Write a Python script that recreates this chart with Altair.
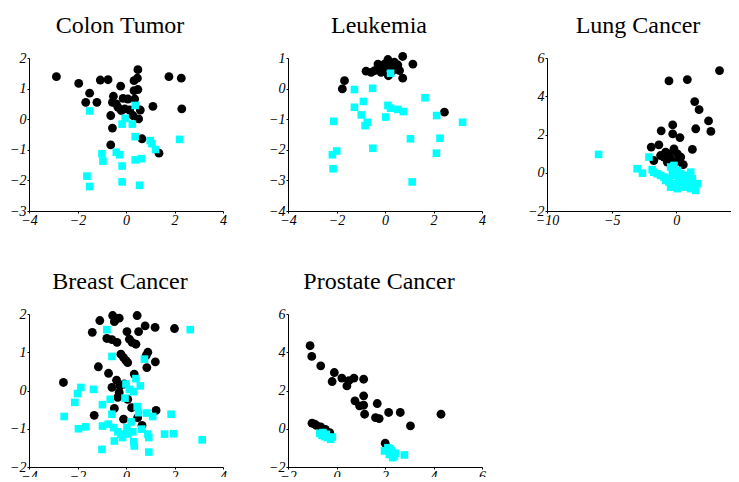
import altair as alt
import pandas as pd

# ---------------- data ----------------
colon_black_x = [-2.87, -1.95, -1.06, -0.74, -1.50, -1.66, -1.20, -0.22, 0.49, 0.33, 0.47, 1.77, 2.28, 2.30, 1.11,
                 0.33, 0.49, -0.52, -0.56, -0.12, 0.08, 0.36, -0.33, -0.05, 0.15, 0.59, 0.29, 0.52, -0.63, -0.56,
                 0.66, -0.63, 1.36, -0.19, -0.40]
colon_black_y = [1.39, 1.17, 1.28, 1.29, 0.85, 0.55, 0.55, 1.08, 1.62, 1.26, 1.34, 1.39, 1.34, 0.34, 0.42,
                 0.93, 0.97, 0.75, 0.55, 0.68, 0.66, 0.66, 0.39, 0.34, 0.30, 0.30, 0.12, 0.01, 0.12, -0.29,
                 -0.64, -0.84, -1.11, 0.28, 0.50]
colon_cyan_x = [-1.50, 0.38, -0.03, -0.16, 0.26, 0.38, 1.00, 1.07, 1.22, 2.21, -0.99, -0.95, -0.40, -0.26,
                -0.16, 0.38, 0.63, -1.61, -1.50, -0.16, 0.56]
colon_cyan_y = [0.27, 0.45, 0.03, -0.16, -0.16, -0.57, -0.70, -0.80, -0.99, -0.66, -1.13, -1.37, -1.08, -1.16,
                -1.53, -1.33, -1.29, -1.86, -2.20, -2.05, -2.16]

leuk_black_x = [0.73, 1.15, 0.73, -0.78, -1.67, -1.76, 2.45, 0.14, -0.09, -0.29, 0.12, 0.39, -0.16, -0.43,
                -0.57, 0.19, 0.53, 0.32, -0.02, -0.23, 0.60]
leuk_black_y = [1.05, 0.80, 0.34, 0.57, 0.26, -0.01, -0.77, 0.42, 0.64, 0.80, 0.95, 0.86, 0.53, 0.59,
                0.53, 0.70, 0.77, 0.59, 0.80, 0.70, 0.59]
leuk_cyan_x = [0.23, -1.26, -0.51, -0.89, -1.26, -0.98, -0.73, -0.82, -2.11, 0.12, 0.23, 0.53, 0.76, 0.03,
               1.65, 2.13, 3.20, 1.05, 2.27, 2.12, -0.50, -1.99, -2.17, -2.14, 1.12]
leuk_cyan_y = [0.50, -0.03, 0.01, -0.42, -0.61, -0.86, -1.10, -1.21, -1.07, -0.55, -0.64, -0.68, -0.75, -0.93,
               -0.30, -0.88, -1.10, -1.64, -1.62, -2.11, -1.95, -2.04, -2.16, -2.62, -3.05]

lung_black_x = [3.34, -0.57, 0.85, 1.42, 1.76, 2.49, 2.67, 1.50, -0.28, -1.17, -0.28, 0.28, 1.24, -1.94,
                -1.35, -1.74, -0.18, -0.57, 0.08, -0.96, -0.44, 0.34, 0.54, -0.70, -0.05, -1.22, -0.83]
lung_black_y = [5.34, 4.80, 4.87, 3.72, 3.30, 2.71, 2.16, 2.30, 2.50, 2.19, 2.03, 1.84, 1.22, 1.34,
                1.46, 0.64, 1.25, 0.99, 0.99, 0.82, 0.73, 0.82, 0.42, 0.56, 0.56, 0.90, 1.08]
lung_cyan_x = [-6.01, -2.12, -3.03, -2.62, -1.87, -1.48, -1.22, -0.96, -0.70, -0.44, -0.31, -0.18, 0.08, 0.34,
               0.47, 0.73, 0.85, 1.11, 1.24, 1.37, 1.63, 1.50, 1.11, 0.73, 0.34, -0.05, -0.44, -0.57, -0.83,
               0.08, -0.39, 0.21, 0.54, 0.98, -1.74, -0.18]
lung_cyan_y = [0.96, 0.82, 0.21, -0.02, 0.16, -0.05, -0.14, -0.23, -0.31, 0.30, 0.03, -0.14, 0.12, -0.05,
               -0.31, -0.14, -0.40, 0.03, -0.31, -0.66, -0.57, -0.92, -0.83, -0.75, -0.66, -0.57, -0.75, -0.49,
               -0.40, -0.83, -0.66, -0.31, -0.52, -0.57, 0.03, 0.38]

breast_black_x = [-0.55, -0.41, -0.28, -0.48, 0.46, -1.08, 0.79, 1.20, 2.00, -1.39, 0.04, 0.52, -0.79, -0.58,
                  -0.37, 0.14, 0.25, 0.41, -0.21, -0.10, 0.00, 0.07, 0.90, 0.83, 1.21, 0.86, -1.14, -0.72, 0.34,
                  -2.58, -0.39, -0.25, -0.58, -0.07, -0.34, 0.07, 0.23, -0.48, 1.24, -1.31, -0.10, 0.48, 0.66,
                  -0.28]
breast_black_y = [1.96, 1.87, 1.89, 1.80, 1.96, 1.83, 1.69, 1.65, 1.62, 1.52, 1.54, 1.54, 1.36, 1.33,
                  1.26, 1.34, 1.26, 1.21, 0.95, 0.86, 0.78, 0.73, 1.00, 0.91, 0.75, 0.60, 0.62, 0.45, 0.43,
                  0.21, 0.27, 0.12, 0.08, 0.17, -0.18, -0.23, -0.45, -0.47, -0.52, -0.65, -0.75, -0.71, -0.91,
                  -0.05]
breast_cyan_x = [-0.79, 2.65, -0.58, 0.76, 0.41, -1.86, -1.34, -2.00, -2.11, -2.55, -1.96, -1.66, 0.00, 0.14,
                 0.32, 0.59, -0.04, -0.97, -0.65, -0.58, 0.46, 0.52, 0.86, 1.10, 1.86, -0.97, -0.73, -0.51,
                 -0.34, -0.48, -0.14, 0.04, 0.21, 0.28, 0.07, 0.32, 0.34, 0.65, 0.90, 0.94, 1.59, 1.97, 3.14,
                 -0.99, 0.94, -0.21]
breast_cyan_y = [1.59, 1.59, 0.89, 0.82, 0.31, 0.08, 0.03, -0.08, -0.31, -0.68, -1.00, -0.95, 0.17, 0.03,
                 -0.03, 0.12, -0.20, -0.37, -0.23, -0.62, -0.42, -0.58, -0.59, -0.68, -0.62, -0.93, -0.88, -0.97,
                 -1.08, -1.32, -1.23, -0.97, -0.82, -1.08, -1.14, -1.34, -1.45, -1.01, -1.14, -1.23, -1.14, -1.13,
                 -1.29, -1.54, -1.61, -1.14]

prost_black_x = [-1.09, -1.02, -0.65, -0.09, -0.18, 0.22, 0.51, 0.43, 0.72, 1.12, 1.12, 0.76, 0.95, 1.12,
                 1.16, 1.68, 1.61, 1.76, 2.15, 2.63, 3.05, 4.31, 2.01, -1.01, -0.83, -0.65, -0.46, -0.28, -0.90]
prost_black_y = [4.34, 3.78, 3.29, 2.94, 2.47, 2.65, 2.51, 2.24, 2.65, 2.59, 1.72, 1.46, 1.20, 1.23,
                 0.76, 1.32, 0.58, 0.53, 0.85, 0.85, 0.15, 0.76, -0.76, 0.29, 0.18, 0.10, -0.03, -0.20, 0.24]
prost_cyan_x = [-0.69, -0.60, -0.49, -0.38, -0.24, -0.56, -0.42, -0.17, 2.12, 2.26, 2.42, 2.32, 1.98, 2.18,
                2.80, 2.22, 2.39]
prost_cyan_y = [-0.24, -0.34, -0.41, -0.46, -0.55, -0.20, -0.29, -0.43, -0.99, -1.16, -1.28, -1.51, -1.16, -1.34,
                -1.37, -1.04, -1.42]

titles = ["Colon Tumor", "Leukemia", "Lung Cancer", "Breast Cancer", "Prostate Cancer"]
x_ticks = [[-4, -2, 0, 2, 4], [-4, -2, 0, 2, 4], [-10, -5, 0, 5], [-4, -2, 0, 2, 4], [-2, 0, 2, 4, 6]]
y_ticks = [[-3, -2, -1, 0, 1, 2], [-4, -3, -2, -1, 0, 1], [-2, 0, 2, 4, 6], [-2, -1, 0, 1, 2], [-2, 0, 2, 4, 6]]

panels = [
    (colon_black_x, colon_black_y, colon_cyan_x, colon_cyan_y),
    (leuk_black_x, leuk_black_y, leuk_cyan_x, leuk_cyan_y),
    (lung_black_x, lung_black_y, lung_cyan_x, lung_cyan_y),
    (breast_black_x, breast_black_y, breast_cyan_x, breast_cyan_y),
    (prost_black_x, prost_black_y, prost_cyan_x, prost_cyan_y),
]

FONT = "Liberation Serif"
W, H = 194, 153


def panel(i):
    bx, by, cx, cy = panels[i]
    xt, yt = x_ticks[i], y_ticks[i]
    xs = alt.Scale(domain=[xt[0], xt[-1]], nice=False, zero=False)
    ys = alt.Scale(domain=[yt[0], yt[-1]], nice=False, zero=False)
    xax = alt.Axis(values=xt, title=None, grid=False, labelFlush=False, labelOverlap=False, labelPadding=0)
    yax = alt.Axis(values=yt, title=None, grid=False, labelFlush=False, labelOverlap=False, labelPadding=1)
    black = alt.Chart(pd.DataFrame({"x": bx, "y": by})).mark_circle(
        size=78, color="#000000", opacity=1
    ).encode(x=alt.X("x:Q", scale=xs, axis=xax), y=alt.Y("y:Q", scale=ys, axis=yax))
    cyan = alt.Chart(pd.DataFrame({"x": cx, "y": cy})).mark_square(
        size=58, color="#00FFFF", opacity=1, filled=True
    ).encode(x=alt.X("x:Q", scale=xs, axis=xax), y=alt.Y("y:Q", scale=ys, axis=yax))
    return alt.layer(black, cyan).properties(
        width=W, height=H,
        title=alt.TitleParams(titles[i], fontSize=24, font=FONT, fontWeight="normal",
                              color="#000000", offset=13, dx=-6),
    )


chart = alt.concat(
    *[panel(i) for i in range(5)],
    columns=3,
    spacing=alt.RowColnumber(row=103, column=65),
    bounds="flush",
).configure_view(
    stroke=None
).configure_axis(
    domainColor="#000000", domainWidth=1, tickColor="#000000", tickSize=2,
    labelFont=FONT, labelFontStyle="italic", labelFontSize=14, labelColor="#000000",
).properties(padding={"left": 1, "top": 6, "right": -14, "bottom": -6})

chart.save("out.html", embed_options={"renderer": "svg", "actions": False})
